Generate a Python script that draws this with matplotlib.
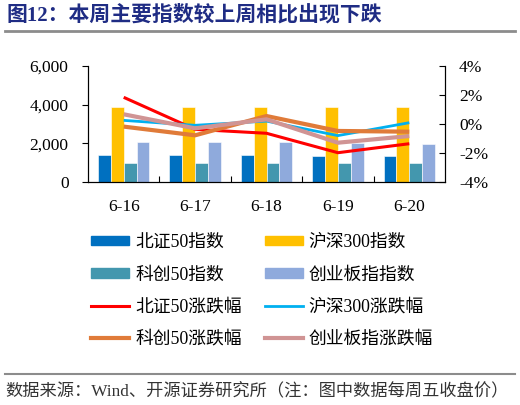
import matplotlib
matplotlib.use('Agg')
import matplotlib.pyplot as plt
from matplotlib.lines import Line2D
from matplotlib.patches import Patch
import numpy as np

plt.rcParams['font.family'] = ['Liberation Serif', 'Noto Sans CJK SC']
plt.rcParams['axes.unicode_minus'] = False

# 数据
dates = ['6-16', '6-17', '6-18', '6-19', '6-20']
bz50 = [1400, 1400, 1390, 1350, 1320]
hs300 = [3900, 3890, 3900, 3865, 3860]
kc50 = [975, 965, 970, 960, 960]
cyb = [2055, 2050, 2045, 2010, 1985]

bz50_chg = [1.84, -0.37, -0.64, -1.98, -1.36]
hs300_chg = [0.25, -0.09, 0.20, -0.80, 0.09]
kc50_chg = [-0.18, -0.78, 0.55, -0.48, -0.53]
cyb_chg = [0.67, -0.30, 0.32, -1.29, -0.83]

C_BLUE = '#0070C0'
C_YELLOW = '#FFC000'
C_TEAL = '#4397AE'
C_LAV = '#8FAADC'
C_RED = '#FF0000'
C_CYAN = '#00B0F0'
C_ORANGE = '#E07B39'
C_PINK = '#D09494'

W, H = 520, 405
fig = plt.figure(figsize=(W / 100, H / 100), dpi=100)

ax = fig.add_axes([88 / W, 1 - 182 / H, (445 - 88) / W, (182 - 66) / H])
ax2 = ax.twinx()

x = np.arange(len(dates))
bw = 0.18
bar_sets = [(bz50, C_BLUE), (hs300, C_YELLOW), (kc50, C_TEAL), (cyb, C_LAV)]
for i, (vals, col) in enumerate(bar_sets):
    ax.bar(x + (i - 1.5) * bw, vals, width=bw, color=col,
           edgecolor='white', linewidth=0.4, zorder=2)

ax.set_xlim(-0.5, len(dates) - 0.5)
ax.set_ylim(0, 6000)
ax.set_yticks([0, 2000, 4000, 6000])
ax.yaxis.set_major_formatter(plt.FuncFormatter(lambda v, _: f'{v:,.0f}'))
ax.set_xticks(x)
ax.set_xticklabels(dates)
ax.set_xticks(np.arange(0.5, len(dates) - 0.5, 1), minor=True)
ax.tick_params(axis='x', which='major', length=0, labelsize=12.5, pad=12)
ax.tick_params(axis='x', which='minor', direction='in', length=4, width=0.8)
ax.tick_params(axis='y', direction='out', length=4, width=0.8, labelsize=12.5, pad=10)
ax.spines['top'].set_visible(False)
for s in ['left', 'bottom']:
    ax.spines[s].set_linewidth(0.8)

ax2.plot(x, bz50_chg, color=C_RED, linewidth=2.2, solid_capstyle='butt', zorder=3)
ax2.plot(x, hs300_chg, color=C_CYAN, linewidth=2.0, solid_capstyle='butt', zorder=3)
ax2.plot(x, kc50_chg, color=C_ORANGE, linewidth=3.0, solid_capstyle='butt', zorder=3)
ax2.plot(x, cyb_chg, color=C_PINK, linewidth=3.0, solid_capstyle='butt', zorder=4)
ax2.set_ylim(-4, 4)
ax2.set_yticks([-4, -2, 0, 2, 4])
ax2.yaxis.set_major_formatter(plt.FuncFormatter(lambda v, _: f'{v:.0f}%'))
ax2.tick_params(axis='y', direction='in', length=4, width=0.8, labelsize=12.5, pad=10)
ax2.spines['top'].set_visible(False)
ax2.spines['right'].set_linewidth(0.8)

# 图例
handles = [
    Patch(color=C_BLUE, label='北证50指数'),
    Patch(color=C_TEAL, label='科创50指数'),
    Line2D([], [], color=C_RED, linewidth=2.2, label='北证50涨跌幅'),
    Line2D([], [], color=C_ORANGE, linewidth=3.0, label='科创50涨跌幅'),
    Patch(color=C_YELLOW, label='沪深300指数'),
    Patch(color=C_LAV, label='创业板指指数'),
    Line2D([], [], color=C_CYAN, linewidth=2.0, label='沪深300涨跌幅'),
    Line2D([], [], color=C_PINK, linewidth=3.0, label='创业板指涨跌幅'),
]
fig.legend(handles=handles, ncol=2, loc='upper left',
           bbox_to_anchor=(91 / W, 1 - 234 / H), frameon=False,
           fontsize=12.8, handlelength=2.14, handleheight=0.45,
           handletextpad=0.34, columnspacing=1.3, labelspacing=0.86,
           borderpad=0, borderaxespad=0)

# 标题与来源
fig.text(7 / W, 1 - 15 / H, '图12：本周主要指数较上周相比出现下跌',
         fontsize=15, fontweight='bold', color='#1F2C84', va='center', ha='left')
fig.add_artist(Line2D([5 / W, 515 / W], [1 - 31 / H, 1 - 31 / H],
                      color='#8C8C8C', linewidth=2, transform=fig.transFigure))
fig.add_artist(Line2D([5 / W, 515 / W], [1 - 374 / H, 1 - 374 / H],
                      color='#8C8C8C', linewidth=1.5, transform=fig.transFigure))
fig.text(5 / W, 1 - 392 / H, '数据来源：Wind、开源证券研究所（注：图中数据每周五收盘价）',
         fontsize=12.4, color='#333333', va='center', ha='left')

fig.savefig('out.png', dpi=100, facecolor='white')
